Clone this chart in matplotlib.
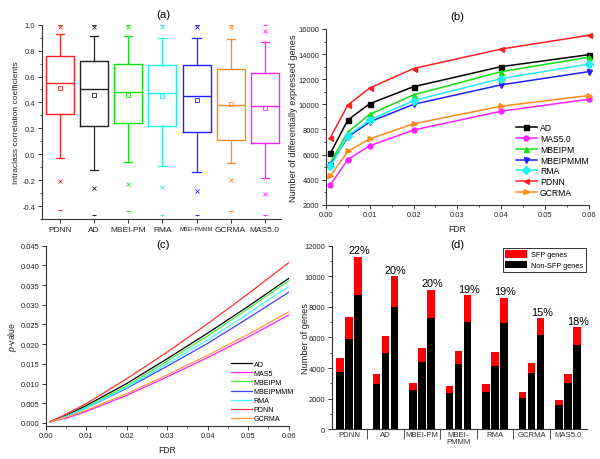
import numpy as np
import matplotlib
matplotlib.use("Agg")
import matplotlib.pyplot as plt
from matplotlib.patches import Patch
from matplotlib.ticker import MultipleLocator, FixedLocator, NullFormatter

plt.rcParams['font.family'] = ['Liberation Sans', 'DejaVu Sans']
plt.rcParams['mathtext.fontset'] = 'custom'
plt.rcParams['mathtext.it'] = 'Liberation Sans:italic'
plt.rcParams['mathtext.rm'] = 'Liberation Sans'

# ---------------- Panel (a) data ----------------
box_names = ['PDNN', 'AD', 'MBEI-PM', 'RMA', 'MBEI-PMMM', 'GCRMA', 'MAS5.0']
box_colors = ['#ff2020', '#202020', '#10e010', '#20f0f0', '#2020ff', '#ff8c1a', '#ff20ff']
box_whishi = [0.93, 0.91, 0.91, 0.90, 0.90, 0.89, 0.87]
box_q3 = [0.76, 0.72, 0.70, 0.69, 0.69, 0.66, 0.63]
box_med = [0.55, 0.50, 0.48, 0.47, 0.45, 0.38, 0.37]
box_mean = [0.51, 0.46, 0.46, 0.45, 0.42, 0.39, 0.36]
box_q1 = [0.31, 0.22, 0.24, 0.22, 0.17, 0.11, 0.09]
box_whislo = [-0.03, -0.12, -0.06, -0.09, -0.14, -0.07, -0.18]
box_p99 = [0.98, 0.98, 0.98, 0.98, 0.98, 0.98, 0.95]
box_p1 = [-0.21, -0.26, -0.23, -0.25, -0.28, -0.20, -0.31]
box_max = [1.00, 1.00, 1.00, 1.00, 1.00, 1.00, 1.00]
box_min = [-0.43, -0.47, -0.44, -0.47, -0.47, -0.44, -0.47]

# ---------------- Panel (b) data ----------------
fdr_b = [0.001, 0.005, 0.01, 0.02, 0.04, 0.06]
b_names = ['AD', 'MAS5.0', 'MBEIPM', 'MBEIPMMM', 'RMA', 'PDNN', 'GCRMA']
b_colors = ['black', '#ff20ff', '#10e010', '#2020ff', '#20f0f0', '#ff2020', '#ff8c1a']
b_markers = ['s', 'o', '^', 'v', 'D', '<', '>']
b_AD = [6100, 8750, 10050, 11400, 13000, 13950]
b_MAS5 = [3600, 5600, 6700, 7950, 9450, 10400]
b_MBEIPM = [5350, 7800, 9200, 10750, 12600, 13750]
b_MBEIPMMM = [5150, 7400, 8600, 10000, 11550, 12600]
b_RMA = [5050, 7500, 8750, 10300, 12050, 13200]
b_PDNN = [7350, 9950, 11300, 12850, 14400, 15500]
b_GCRMA = [4300, 6250, 7250, 8450, 9850, 10700]
b_series = [b_AD, b_MAS5, b_MBEIPM, b_MBEIPMMM, b_RMA, b_PDNN, b_GCRMA]

# ---------------- Panel (c) data ----------------
fdr_c = [0.001, 0.005, 0.01, 0.02, 0.03, 0.04, 0.05, 0.06]
c_names = ['AD', 'MAS5', 'MBEIPM', 'MBEIPMMM', 'RMA', 'PDNN', 'GCRMA']
c_colors = ['black', '#ff20ff', '#40f040', '#4040ff', '#40ffff', '#ff3030', '#ff9a40']
c_AD = [0.0003, 0.0019, 0.0044, 0.0100, 0.0163, 0.0228, 0.0296, 0.0367]
c_MAS5 = [0.0002, 0.0012, 0.0029, 0.0070, 0.0117, 0.0166, 0.0218, 0.0274]
c_MBEIPM = [0.0002, 0.0017, 0.0040, 0.0094, 0.0157, 0.0221, 0.0290, 0.0361]
c_MBEIPMMM = [0.0002, 0.0016, 0.0038, 0.0088, 0.0144, 0.0202, 0.0266, 0.0332]
c_RMA = [0.0002, 0.0016, 0.0038, 0.0090, 0.0150, 0.0211, 0.0278, 0.0347]
c_PDNN = [0.0003, 0.0022, 0.0049, 0.0112, 0.0180, 0.0252, 0.0328, 0.0407]
c_GCRMA = [0.0002, 0.0014, 0.0032, 0.0074, 0.0122, 0.0172, 0.0225, 0.0282]
c_series = [c_AD, c_MAS5, c_MBEIPM, c_MBEIPMMM, c_RMA, c_PDNN, c_GCRMA]

# ---------------- Panel (d) data ----------------
d_groups = ['PDNN', 'AD', 'MBEI-PM', 'MBEI-\nPMMM', 'RMA', 'GCRMA', 'MAS5.0']
d_nonsfp = [[3770, 5900, 8800], [2960, 5010, 8020], [2550, 4400, 7300],
            [2390, 4250, 7040], [2460, 4160, 6950], [2050, 3700, 6150],
            [1610, 3000, 5490]]
d_total = [[4640, 7350, 11280], [3590, 6120, 10000], [3050, 5320, 9130],
           [2850, 5100, 8760], [2960, 5070, 8590], [2440, 4310, 7260],
           [1940, 3590, 6670]]
d_pct = ['22%', '20%', '20%', '19%', '19%', '15%', '18%']

fig = plt.figure(figsize=(6.0, 4.6), dpi=100)

TICK_FS = 5.4
TXT = '#222222'

def style_axes(ax):
    for s in ['top', 'right']:
        ax.spines[s].set_visible(False)
    for s in ['left', 'bottom']:
        ax.spines[s].set_linewidth(0.8)
        ax.spines[s].set_color('#333333')
    ax.tick_params(which='major', direction='out', length=3, width=0.7,
                   labelsize=TICK_FS, colors='#333333', labelcolor=TXT, pad=1.8)
    ax.tick_params(which='minor', direction='out', length=1.7, width=0.6,
                   colors='#333333')

# ---- (a) ----
axa = fig.add_axes([0.070, 0.5217, 0.398, 0.4224])
stats = []
for i in range(len(box_names)):
    stats.append(dict(med=box_med[i], q1=box_q1[i], q3=box_q3[i],
                      whislo=box_whislo[i], whishi=box_whishi[i],
                      mean=box_mean[i], fliers=[], label=box_names[i]))
pos = np.arange(1, len(box_names) + 1)
bp = axa.bxp(stats, positions=pos, widths=0.82, showmeans=True,
             showfliers=False, patch_artist=False, manage_ticks=False)
for i, c in enumerate(box_colors):
    for key in ['boxes', 'medians']:
        bp[key][i].set_color(c)
        bp[key][i].set_linewidth(1.0)
    for j in (2 * i, 2 * i + 1):
        bp['whiskers'][j].set_color(c)
        bp['whiskers'][j].set_linewidth(0.9)
        bp['caps'][j].set_color(c)
        bp['caps'][j].set_linewidth(0.9)
        xd = bp['caps'][j].get_xdata()
        mid = (xd[0] + xd[1]) / 2
        bp['caps'][j].set_xdata([mid - 0.12, mid + 0.12])
    m = bp['means'][i]
    m.set_marker('s'); m.set_markersize(2.6); m.set_markerfacecolor('none')
    m.set_markeredgecolor(c); m.set_markeredgewidth(0.6)
    axa.plot([pos[i], pos[i]], [box_p99[i], box_p1[i]], ls='none', marker='x',
             ms=2.6, mew=0.6, color=c)
    axa.plot([pos[i], pos[i]], [box_max[i], box_min[i]], ls='none', marker='_',
             ms=3.5, mew=0.7, color=c)
axa.set_xlim(0.47, 7.47)
axa.set_ylim(-0.5, 1.0)
style_axes(axa)
axa.yaxis.set_major_locator(FixedLocator([-0.4, -0.2, 0.0, 0.2, 0.4, 0.6, 0.8, 1.0]))
axa.yaxis.set_minor_locator(MultipleLocator(0.1))
axa.set_yticklabels(['-0.4', '-0.2', '0.0', '0.2', '0.4', '0.6', '0.8', '1.0'])
axa.set_xticks(pos)
axa.set_xticklabels(box_names, fontsize=6.0)
for lbl in axa.get_xticklabels():
    if lbl.get_text() == 'MBEI-PMMM':
        lbl.set_fontsize(4.0)
axa.set_ylabel('Intraclass correlation coefficients', fontsize=6.0, color=TXT)
axa.yaxis.set_label_coords(-0.093, 0.5)
fig.text(0.272, 0.967, '(a)', ha='center', va='center', fontsize=8.2)

# ---- (b) ----
axb = fig.add_axes([0.5433, 0.5528, 0.4378, 0.3820])
for name, col, mk, ys in zip(b_names, b_colors, b_markers, b_series):
    axb.plot(fdr_b, ys, color=col, marker=mk, ms=3.6, lw=1.1, label=name,
             clip_on=False)
axb.set_xlim(0, 0.06)
axb.set_ylim(2000, 16000)
style_axes(axb)
axb.xaxis.set_major_locator(MultipleLocator(0.01))
axb.xaxis.set_minor_locator(MultipleLocator(0.005))
axb.yaxis.set_major_locator(MultipleLocator(2000))
axb.yaxis.set_minor_locator(MultipleLocator(1000))
axb.set_xticklabels([f'{v:.2f}' for v in axb.get_xticks()])
axb.set_xlabel('FDR', fontsize=6.2, color=TXT)
axb.xaxis.set_label_coords(0.5, -0.11)
axb.set_ylabel('Number of differentially expressed genes', fontsize=6.6, color=TXT)
axb.yaxis.set_label_coords(-0.108, 0.5)
axb.legend(loc='upper left', bbox_to_anchor=(0.70, 0.50), frameon=False,
           fontsize=6.2, handlelength=2.4, labelspacing=0.22, borderpad=0.2,
           handletextpad=0.4)
fig.text(0.762, 0.962, '(b)', ha='center', va='center', fontsize=8.2)

# ---- (c) ----
axc = fig.add_axes([0.0762, 0.0725, 0.4050, 0.3912])
for name, col, ys in zip(c_names, c_colors, c_series):
    axc.plot(fdr_c, ys, color=col, lw=0.9, label=name)
axc.set_xlim(0, 0.06)
axc.set_ylim(-0.0007, 0.045)
style_axes(axc)
axc.xaxis.set_major_locator(MultipleLocator(0.01))
axc.xaxis.set_minor_locator(MultipleLocator(0.005))
axc.yaxis.set_major_locator(FixedLocator(np.arange(0, 0.0451, 0.005)))
axc.set_yticklabels([f'{v:.3f}' for v in np.arange(0, 0.0451, 0.005)])
axc.set_xticklabels([f'{v:.2f}' for v in axc.get_xticks()])
axc.set_xlabel('FDR', fontsize=6.2, color=TXT)
axc.xaxis.set_label_coords(0.5, -0.105)
axc.set_ylabel(r'$p$-value', fontsize=6.2, color=TXT)
axc.yaxis.set_label_coords(-0.11, 0.5)
axc.legend(loc='upper left', bbox_to_anchor=(0.745, 0.385), frameon=False,
           fontsize=5.1, handlelength=2.9, labelspacing=0.3, borderpad=0.1,
           handletextpad=0.3)
fig.text(0.272, 0.467, '(c)', ha='center', va='center', fontsize=8.2)

# ---- (d) ----
axd = fig.add_axes([0.5533, 0.0646, 0.4250, 0.3991])
bw = 0.21
offs = [-0.247, 0.0, 0.247]
for g in range(len(d_groups)):
    for k in range(3):
        x = g + offs[k]
        non = d_nonsfp[g][k]
        sfp = d_total[g][k] - non
        axd.bar(x, non, width=bw, color='black', edgecolor='none')
        axd.bar(x, sfp, width=bw, bottom=non, color='#ff0000', edgecolor='none')
    axd.text(g + offs[2] + 0.03, d_total[g][2] + 100, d_pct[g], ha='center',
             va='bottom', fontsize=7.8)
axd.set_xlim(-0.466, 6.52)
axd.set_ylim(0, 12000)
style_axes(axd)
axd.yaxis.set_major_locator(MultipleLocator(2000))
axd.yaxis.set_minor_locator(MultipleLocator(1000))
axd.xaxis.set_major_locator(FixedLocator(np.arange(0.5, 6.0, 1.0)))
axd.xaxis.set_major_formatter(NullFormatter())
axd.tick_params(axis='x', which='major', length=7, width=0.6)
axd.xaxis.set_minor_locator(FixedLocator(np.arange(0, 7)))
axd.set_xticklabels(d_groups, minor=True)
axd.tick_params(axis='x', which='minor', length=0, labelsize=5.6, pad=1.5)
for lbl in axd.get_xticklabels(minor=True):
    lbl.set_linespacing(1.0)
axd.set_ylabel('Number of genes', fontsize=6.7, color=TXT)
axd.yaxis.set_label_coords(-0.087, 0.5)
leg_handles = [Patch(facecolor='#ff0000', edgecolor='none'),
               Patch(facecolor='black', edgecolor='none')]
lg = axd.legend(leg_handles, ['SFP genes', 'Non-SFP genes'], loc='upper right',
                bbox_to_anchor=(1.01, 1.01), fontsize=5.3, frameon=True,
                fancybox=False, edgecolor='black', handlelength=3.0,
                handleheight=1.2, labelspacing=0.35, borderpad=0.35,
                handletextpad=0.5)
lg.get_frame().set_linewidth(0.7)
fig.text(0.762, 0.467, '(d)', ha='center', va='center', fontsize=8.2)

fig.savefig('out.png', dpi=100)
